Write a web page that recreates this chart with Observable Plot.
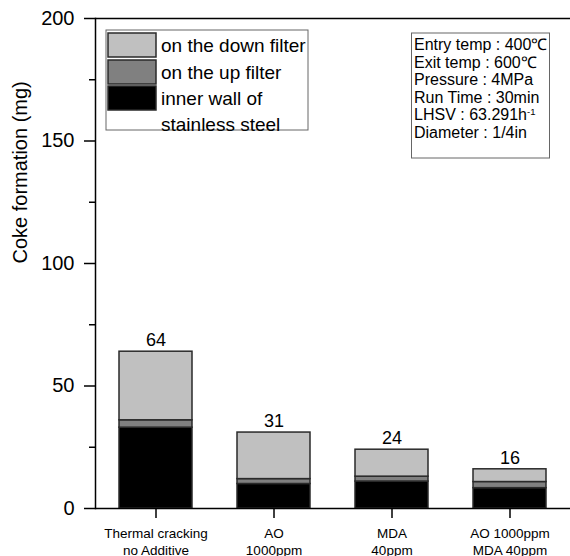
<!DOCTYPE html>
<html>
<head>
<meta charset="utf-8">
<script src="https://cdn.jsdelivr.net/npm/d3@7"></script>
<script src="https://cdn.jsdelivr.net/npm/@observablehq/plot@0.6"></script>
<style>
  body { margin: 0; background: #fff; }
  #chart svg { font-family: "Liberation Sans", Arial, sans-serif; }
</style>
</head>
<body>
<div id="chart"></div>
<script>
const categories = ["Thermal cracking\nno Additive", "AO\n1000ppm", "MDA\n40ppm", "AO 1000ppm\nMDA 40ppm"];
const series = ["inner wall of stainless steel", "on the up filter", "on the down filter"];
const wallValues = [33, 10, 11, 8.3];
const upValues = [3, 2, 2, 2.5];
const downValues = [28, 19, 11, 5.2];
const totals = [64, 31, 24, 16];
const seriesColors = ["#000000", "#808080", "#c0c0c0"];
const yTicks = [0, 50, 100, 150, 200];
const yMinorTicks = [25, 75, 125, 175];
const yLabel = "Coke formation (mg)";
const legendItems = [
  {label: ["on the down filter"], color: "#c0c0c0"},
  {label: ["on the up filter"], color: "#808080"},
  {label: ["inner wall of", "stainless steel"], color: "#000000"}
];
const infoLines = ["Entry temp : 400\u2103", "Exit temp : 600\u2103", "Pressure : 4MPa", "Run Time : 30min", "LHSV : 63.291h", "Diameter : 1/4in"];

const rows = [];
categories.forEach((c, i) => {
  rows.push({cat: c, series: series[0], value: wallValues[i]});
  rows.push({cat: c, series: series[1], value: upValues[i]});
  rows.push({cat: c, series: series[2], value: downValues[i]});
});
const totalRows = categories.map((c, i) => ({cat: c, total: totals[i]}));

const plot = Plot.plot({
  width: 570,
  height: 556,
  marginLeft: 95,
  marginRight: 0,
  marginTop: 18,
  marginBottom: 48,
  style: {fontFamily: "Liberation Sans, Arial, sans-serif", color: "#000", background: "#fff"},
  x: {domain: categories, paddingInner: 0.385, paddingOuter: 0.1925},
  y: {domain: [0, 200]},
  color: {domain: series, range: seriesColors},
  marks: [
    Plot.barY(rows, {x: "cat", y: "value", fill: "series", stroke: "#2a2a2a", strokeWidth: 1.5}),
    Plot.text(totalRows, {x: "cat", y: "total", text: d => String(d.total), dy: -11, fontSize: 18, fill: "#000"}),
    Plot.ruleY([0, 200], {stroke: "#000", strokeWidth: 1.5}),
    Plot.frame({anchor: "left", stroke: "#000", strokeWidth: 1.5}),
    Plot.axisY({ticks: yTicks, tickSize: 11, tickPadding: 10, fontSize: 20, label: null, strokeWidth: 1.5}),
    Plot.axisY({ticks: yMinorTicks, tickSize: 6, tickFormat: () => "", label: null, strokeWidth: 1.5}),
    Plot.axisX({tickSize: 10, tickPadding: 8, fontSize: 13.5, lineHeight: 1.25, label: null, strokeWidth: 1.5}),
    Plot.text([yLabel], {frameAnchor: "left", dx: -75, rotate: -90, fontSize: 20, fill: "#000", text: d => d})
  ]
});
document.getElementById("chart").appendChild(plot);

const svg = d3.select(plot);
// Legend box
const lg = svg.append("g").attr("font-size", 19).attr("fill", "#000").attr("text-anchor", "start");
lg.append("rect").attr("x", 106).attr("y", 30).attr("width", 202).attr("height", 100)
  .attr("fill", "#fff").attr("stroke", "#666").attr("stroke-width", 1);
const swY = [33, 60, 86];
const textY = [[45], [72], [98, 124]];
legendItems.forEach((it, i) => {
  lg.append("rect").attr("x", 108).attr("y", swY[i]).attr("width", 48).attr("height", 24)
    .attr("fill", it.color).attr("stroke", "#2a2a2a").attr("stroke-width", 1.5);
  it.label.forEach((t, j) => {
    lg.append("text").attr("x", 161).attr("y", textY[i][j]).attr("dy", "0.35em").attr("fill", "#000").text(t);
  });
});
// Info box
const ib = svg.append("g").attr("font-size", 16).attr("fill", "#000").attr("text-anchor", "start");
ib.append("rect").attr("x", 411.5).attr("y", 33).attr("width", 138).attr("height", 125)
  .attr("fill", "#fff").attr("stroke", "#666").attr("stroke-width", 1);
infoLines.forEach((t, i) => {
  const tx = ib.append("text").attr("x", 414).attr("y", 50 + i * 17.5).attr("fill", "#000").text(t);
  if (i === 4) tx.append("tspan").attr("font-size", 9.5).attr("dy", "-0.55em").text("-1");
});
</script>
</body>
</html>
